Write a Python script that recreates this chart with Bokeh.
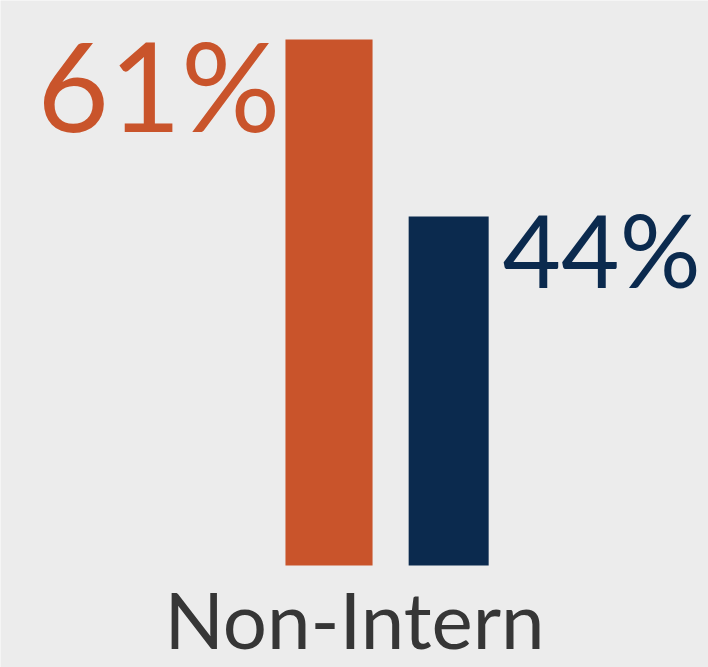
from bokeh.plotting import figure
from bokeh.models import Range1d, FactorRange, ColumnDataSource
from bokeh.transform import dodge
from bokeh.core.properties import value
from bokeh.embed import file_html
from bokeh.resources import INLINE

# data
categories = ["Non-Intern"]
series_a = [61]   # orange
series_b = [44]   # navy
labels_a = ["61%"]
labels_b = ["44%"]
axis_break = 10.47  # visible baseline of the truncated value axis

ORANGE = "#C9542B"
NAVY = "#0B2A4E"
BG = "#ECECEC"
FONT = "Lato"

src = ColumnDataSource(dict(cat=categories, a=series_a, b=series_b, la=labels_a,
                            lb=labels_b, base=[axis_break] * len(categories)))

p = figure(width=708, height=667, x_range=FactorRange(*categories),
           y_range=Range1d(0.67, 64.75), output_backend="svg", toolbar_location=None,
           min_border_left=0, min_border_right=0, min_border_top=0, min_border_bottom=0)
p.background_fill_color = BG
p.border_fill_color = BG
p.outline_line_color = None
p.grid.visible = False
p.axis.visible = False

p.vbar(x=dodge("cat", -0.036, range=p.x_range), top="a", bottom="base", width=0.123,
       source=src, fill_color=ORANGE, line_color=None)
p.vbar(x=dodge("cat", 0.133, range=p.x_range), top="b", bottom="base", width=0.113,
       source=src, fill_color=NAVY, line_color=None)

p.text(x=dodge("cat", -0.0975, range=p.x_range), y="a", text="la", source=src,
       text_align="right", text_baseline="top", text_font=value(FONT),
       text_font_size="124px", text_color=ORANGE, x_offset=-5, y_offset=-30)
p.text(x=dodge("cat", 0.1893, range=p.x_range), y="b", text="lb", source=src,
       text_align="left", text_baseline="top", text_font=value(FONT),
       text_font_size="101px", text_color=NAVY, x_offset=14, y_offset=-28)

# category label under the bars
p.text(x="cat", y="base", text="cat", source=src,
       text_align="center", text_baseline="top", text_font=value(FONT),
       text_font_size="78px", text_color="#363636", y_offset=7)

open("out.html", "w").write(file_html(p, INLINE))
